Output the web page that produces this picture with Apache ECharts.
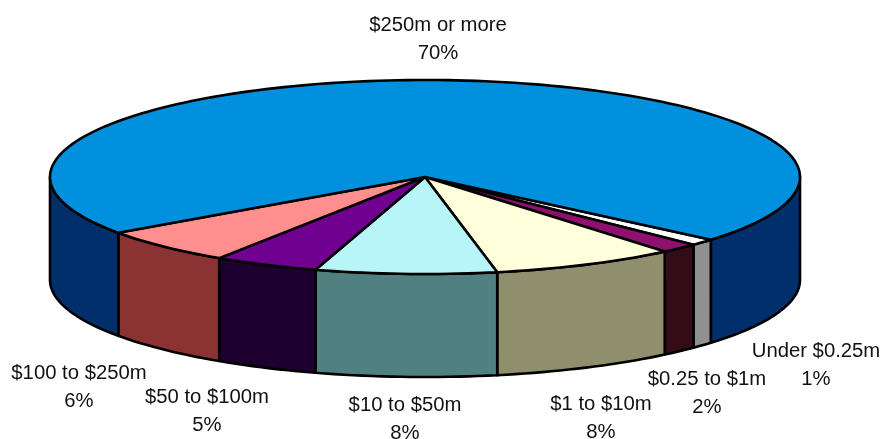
<!DOCTYPE html>
<html><head><meta charset="utf-8">
<style>html,body{margin:0;padding:0;background:#fff}#c{width:880px;height:439px}</style>
<script src="https://cdn.jsdelivr.net/npm/echarts@6/dist/echarts.min.js"></script>
</head><body><div id="c"></div>
<script>
// Data, clockwise from the start angle
var categories = ['Under $0.25m', '$0.25 to $1m', '$1 to $10m', '$10 to $50m', '$50 to $100m', '$100 to $250m', '$250m or more'];
var values = [1.1, 1.65, 7.9, 7.75, 4.5, 5.95, 70.49];

// Styling and layout, kept apart from the data
var topColors = ['#FFFFFF', '#901070', '#FFFFDC', '#B8F5F8', '#6F0090', '#FF8F8F', '#0090DD'];
var sideColors = ['#909090', '#330C18', '#8F8F6E', '#50807F', '#1D0030', '#8B3232', '#002F6C'];
var labelCentres = [[816, 365], [707, 393], [601, 418], [405, 419], [207, 411], [79, 387], [438, 39]];
var pie = { cx: 425, cy: 177, rx: 375, ry: 97, depth: 103, startAngle: 40.3 };

var total = values.reduce(function (a, b) { return a + b; }, 0);
function pt(deg, dy) {
  var r = deg * Math.PI / 180;
  return [pie.cx + pie.rx * Math.cos(r), pie.cy + pie.ry * Math.sin(r) + (dy || 0)];
}
function arc(a, b) {
  var out = [], n = Math.max(2, Math.ceil((b - a) / 1.5));
  for (var i = 0; i <= n; i++) out.push(a + (b - a) * i / n);
  return out;
}
function renderItem(params, api) {
  var idx = params.dataIndex, before = 0;
  for (var i = 0; i < idx; i++) before += values[i];
  var a = pie.startAngle + before / total * 360;
  var b = a + api.value(0) / total * 360;
  var children = [];
  var lineStyle = { stroke: '#000', lineWidth: 2.6, lineJoin: 'round' };
  [[0, 180], [360, 540]].forEach(function (win) {
    var s = Math.max(a, win[0]), e = Math.min(b, win[1]);
    if (e <= s) return;
    var angles = arc(s, e);
    var pts = angles.map(function (t) { return pt(t, 0); })
      .concat(angles.slice().reverse().map(function (t) { return pt(t, pie.depth); }));
    children.push({ type: 'polygon', shape: { points: pts },
      style: Object.assign({ fill: sideColors[idx] }, lineStyle) });
  });
  var topPts = [[pie.cx, pie.cy]].concat(arc(a, b).map(function (t) { return pt(t, 0); }));
  children.push({ type: 'polygon', shape: { points: topPts },
    style: Object.assign({ fill: topColors[idx] }, lineStyle) });
  return { type: 'group', children: children };
}
function renderLabel(params, api) {
  var idx = params.dataIndex, c = labelCentres[idx];
  return { type: 'text', x: c[0], y: c[1], style: {
    text: categories[idx] + '\n' + Math.round(api.value(0)) + '%',
    fill: '#111', font: '20.3px "Liberation Sans", Arial, sans-serif',
    lineHeight: 28, align: 'center', verticalAlign: 'middle' } };
}
var chart = echarts.init(document.getElementById('c'), null, { renderer: 'canvas' });
chart.setOption({
  animation: false,
  backgroundColor: '#fff',
  series: [
    { type: 'custom', coordinateSystem: 'none', renderItem: renderItem, data: values, silent: true, z: 1 },
    { type: 'custom', coordinateSystem: 'none', renderItem: renderLabel, data: values, silent: true, z: 2 }
  ]
});
</script></body></html>
